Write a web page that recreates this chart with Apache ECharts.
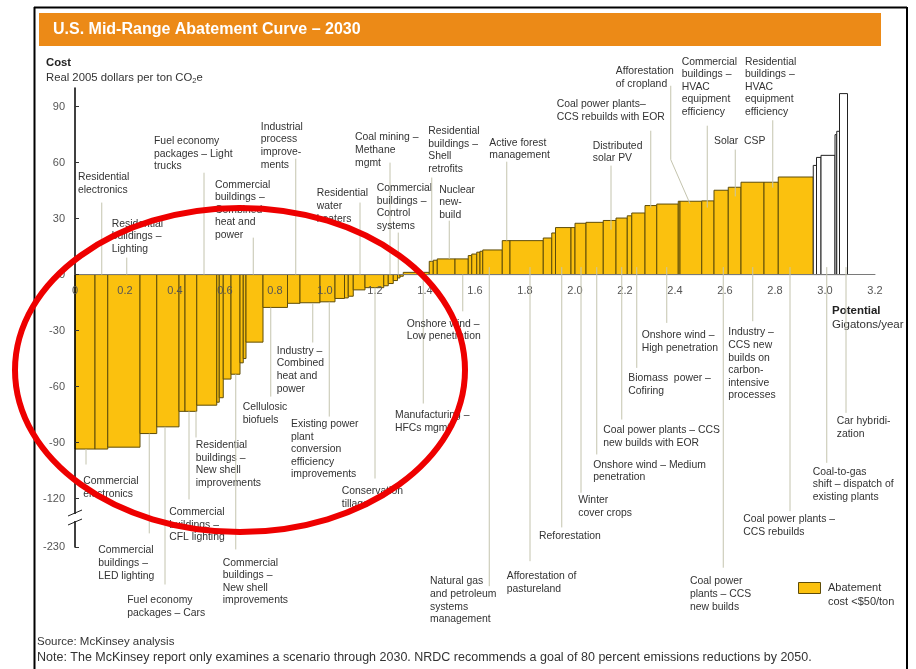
<!DOCTYPE html>
<html>
<head>
<meta charset="utf-8">
<title>U.S. Mid-Range Abatement Curve – 2030</title>
<script src="https://cdn.jsdelivr.net/npm/echarts@6/dist/echarts.min.js"></script>
<style>
  html, body { margin: 0; padding: 0; background: #fff; }
  #chart { width: 916px; height: 669px; }
</style>
</head>
<body>
<div id="chart"></div>
<script>
// abatement measures, left to right: potential (Gt CO2e / year) and cost ($ per t)
var cheapWidths = [0.08, 0.051, 0.129, 0.067, 0.089, 0.024, 0.047, 0.08, 0.01, 0.016,
  0.031, 0.036, 0.013, 0.011, 0.068, 0.098, 0.05, 0.08, 0.06, 0.038,
  0.015, 0.02, 0.047, 0.075, 0.018, 0.02, 0.017, 0.01, 0.013, 0.104,
  0.016, 0.016, 0.071, 0.053, 0.014, 0.02, 0.013, 0.011, 0.078, 0.031,
  0.133, 0.034, 0.015, 0.062, 0.016, 0.044, 0.069, 0.051, 0.045, 0.018,
  0.053, 0.047, 0.086, 0.007, 0.087, 0.049, 0.057, 0.051, 0.092, 0.057, 0.14];
var cheapCosts = [-93.5, -93.5, -92.5, -85.2, -81.6, -73.3, -73.3, -70, -68.4, -66,
  -56, -53.4, -47.3, -45, -36.2, -17.6, -15.4, -15.1, -14.6, -12.8,
  -12.5, -11.6, -8.2, -7, -6, -4.8, -3.2, -1.8, -0.9, 1.2,
  7.1, 7.7, 8.4, 8.4, 10.2, 11, 12, 12.5, 13.2, 18.2,
  18.2, 19.6, 22.3, 25.2, 25.2, 27.5, 28, 29, 30.3, 31.5,
  33, 37, 37.8, 39.3, 39.3, 39.5, 45.2, 46.8, 49.5, 49.5, 52.3];
// measures costing more than $50/ton (drawn unshaded)
var dearWidths = [0.013, 0.018, 0.056, 0.007, 0.011, 0.032];
var dearCosts = [58.5, 62.8, 63.9, 75, 76.8, 97];

var yTickValues = [90, 60, 30, 0, -30, -60, -90, -120, -230];
var yTickLabels = ['90', '60', '30', '0', '-30', '-60', '-90', '-120', '-230'];

// callouts: [label, line x, line top, line bottom, text x, first-line y, extra line points]
var callouts = [
  ['Residential\nelectronics', 0.107, 38.6, 0, 0.012, 52.0],
  ['Residential\nbuildings –\nLighting', 0.207, 9.1, 0, 0.147, 27.3],
  ['Fuel economy\npackages – Light\ntrucks', 0.516, 54.6, 0, 0.316, 71.4],
  ['Commercial\nbuildings –\nCombined\nheat and\npower', 0.713, 19.8, 0, 0.56, 48.2],
  ['Industrial\nprocess\nimprove-\nments', 0.883, 62.1, 0, 0.743, 79.1],
  ['Residential\nwater\nheaters', 1.14, 38.6, 0, 0.967, 43.4],
  ['Coal mining –\nMethane\nmgmt', 1.26, 60, 0, 1.12, 73.4],
  ['Commercial\nbuildings –\nControl\nsystems', 1.293, 22.5, 0, 1.207, 46.2],
  ['Residential\nbuildings –\nShell\nretrofits', 1.427, 52, 7.1, 1.413, 76.8],
  ['Nuclear\nnew-\nbuild', 1.497, 28.9, 8.4, 1.457, 45.5],
  ['Active forest\nmanagement', 1.727, 60.5, 18.2, 1.657, 70.7],
  ['Distributed\nsolar PV', 2.144, 58.4, 24.1, 2.071, 69.1],
  ['Coal power plants–\nCCS rebuilds with EOR', 2.303, 77.1, 35.9, 1.927, 91.1],
  ['Afforestation\nof cropland', 2.383, 101.2, 61.6, 2.163, 108.8, [[2.46, 38]]],
  ['Commercial\nbuildings –\nHVAC\nequipment\nefficiency', 2.529, 79.8, 35.9, 2.427, 114.1],
  ['Solar  CSP', 2.641, 67, 41.9, 2.556, 71.3],
  ['Residential\nbuildings –\nHVAC\nequipment\nefficiency', 2.791, 82.7, 46.6, 2.68, 114.1],
  ['Commercial\nelectronics', 0.044, -93.5, -101.8, 0.033, -110.7],
  ['Commercial\nbuildings –\nLED lighting', 0.297, -85.2, -138.7, 0.093, -147.9],
  ['Fuel economy\npackages – Cars', 0.36, -81.6, -166.1, 0.209, -174.6],
  ['Commercial\nbuildings –\nCFL lighting', 0.456, -73.3, -120.5, 0.377, -127.3],
  ['Residential\nbuildings –\nNew shell\nimprovements', 0.484, -73.3, -87.3, 0.483, -91.4],
  ['Commercial\nbuildings –\nNew shell\nimprovements', 0.643, -53.4, -147.3, 0.591, -154.4],
  ['Cellulosic\nbiofuels', 0.783, -17.6, -65.4, 0.671, -71.1],
  ['Industry –\nCombined\nheat and\npower', 0.951, -15.4, -36.4, 0.807, -40.9],
  ['Existing power\nplant\nconversion\nefficiency\nimprovements', 1.017, -14.6, -76.1, 0.864, -80.2],
  ['Conservation\ntillage', 1.2, -7, -109.3, 1.067, -116.1],
  ['Manufacturing –\nHFCs mgmt', 1.393, 0, -69.1, 1.28, -75.4],
  ['Onshore wind –\nLow penetration', 1.551, 0, -19.7, 1.327, -26.4],
  ['Natural gas\nand petroleum\nsystems\nmanagement', 1.657, 4, -167, 1.42, -164.5],
  ['Afforestation of\npastureland', 1.82, 4, -153.6, 1.727, -161.6],
  ['Reforestation', 1.947, 4, -135.5, 1.856, -140.2],
  ['Winter\ncover crops', 2.024, 4, -116.9, 2.013, -120.9],
  ['Onshore wind – Medium\npenetration', 2.087, 4, -96.4, 2.073, -101.9],
  ['Coal power plants – CCS\nnew builds with EOR', 2.187, 4, -77.7, 2.113, -83.4],
  ['Biomass  power –\nCofiring', 2.247, 4, -50, 2.213, -55.7],
  ['Onshore wind –\nHigh penetration', 2.367, 4, -25.9, 2.267, -32.7],
  ['Coal power\nplants – CCS\nnew builds', 2.593, 4, -157.1, 2.46, -164.5],
  ['Industry –\nCCS new\nbuilds on\ncarbon-\nintensive\nprocesses', 2.711, 4, -25, 2.613, -31.1],
  ['Coal power plants –\nCCS rebuilds', 2.86, 4, -126.8, 2.673, -131.3],
  ['Coal-to-gas\nshift – dispatch of\nexisting plants', 3.007, 4, -100.9, 2.951, -105.7],
  ['Car hybridi-\nzation', 3.084, 4, -74.1, 3.047, -78.8]
];

var FONT = '"Liberation Sans", Arial, Helvetica, sans-serif';
var YELLOW = '#fbc10e';
var LINE_H = 12.6;

// the y axis is broken below -120: -230 sits just under it
var yTop = 100, yBottom = -146;
var gridTop = 88, gridBottom = 122, gridHeight = 669 - gridTop - gridBottom;
function plotCost(v) { return v < -120 ? yBottom : v; }

function buildBars(widths, costs, startAt) {
  var x = startAt, out = [];
  for (var i = 0; i < widths.length; i++) {
    out.push([x, x + widths[i], costs[i]]);
    x += widths[i];
  }
  return out;
}
var cheapBars = buildBars(cheapWidths, cheapCosts, 0);
var dearBars = buildBars(dearWidths, dearCosts, cheapBars[cheapBars.length - 1][1]);

function barRenderer(fill, stroke) {
  return function (params, api) {
    var a = api.coord([api.value(0), api.value(2)]);
    var b = api.coord([api.value(1), 0]);
    return {
      type: 'rect',
      shape: { x: a[0], y: Math.min(a[1], b[1]), width: b[0] - a[0], height: Math.abs(b[1] - a[1]) },
      style: { fill: fill, stroke: stroke, lineWidth: 1 }
    };
  };
}

function renderCallout(params, api) {
  var c = callouts[params.dataIndex];
  var pts = [api.coord([c[1], c[2]]), api.coord([c[1], c[3]])];
  (c[6] || []).forEach(function (p) { pts.push(api.coord(p)); });
  var t = api.coord([c[4], c[5]]);
  return {
    type: 'group',
    children: [
      { type: 'polyline', shape: { points: pts }, style: { stroke: '#c4c4ae', lineWidth: 1, fill: null } },
      { type: 'text', x: t[0], y: t[1] - LINE_H / 2,
        style: { text: c[0], font: '10.4px ' + FONT, fill: '#333', lineHeight: LINE_H,
                 align: 'left', verticalAlign: 'top' } }
    ]
  };
}

// x axis sits on the zero line: shift it up from the grid bottom
var zeroOffset = -gridHeight * (0 - yBottom) / (yTop - yBottom);

var chart = echarts.init(document.getElementById('chart'));
chart.setOption({
  backgroundColor: '#fff',
  animation: false,
  grid: { left: 75, right: 41, top: gridTop, bottom: gridBottom },
  xAxis: {
    type: 'value', min: 0, max: 3.2, interval: 0.2, z: 3,
    position: 'bottom', offset: zeroOffset,
    axisLine: { onZero: false, lineStyle: { color: '#7a7a7a', width: 1 } },
    axisTick: { show: false },
    splitLine: { show: false },
    axisLabel: {
      margin: 11, color: '#555', fontSize: 11, fontFamily: FONT,
      formatter: function (v) { return v === 0 ? '0' : v.toFixed(1); }
    }
  },
  yAxis: {
    type: 'value', min: yBottom, max: yTop, z: 3,
    axisLine: { show: true, onZero: false, lineStyle: { color: '#000', width: 1.5 } },
    axisTick: { show: true, inside: true, length: 4, lineStyle: { color: '#333' },
                customValues: yTickValues.map(plotCost) },
    splitLine: { show: false },
    axisLabel: {
      margin: 10, color: '#555', fontSize: 11, fontFamily: FONT,
      customValues: yTickValues.map(plotCost),
      formatter: function (v) {
        for (var i = 0; i < yTickValues.length; i++) {
          if (plotCost(yTickValues[i]) === v) return yTickLabels[i];
        }
        return '';
      }
    }
  },
  series: [
    { type: 'custom', name: 'Abatement cost <$50/ton', z: 2, silent: true,
      renderItem: barRenderer(YELLOW, '#5e4c08'),
      encode: { x: [0, 1], y: 2 }, data: cheapBars },
    { type: 'custom', name: 'Abatement cost >$50/ton', z: 2, silent: true,
      renderItem: barRenderer('#fff', '#222'),
      encode: { x: [0, 1], y: 2 }, data: dearBars },
    { type: 'custom', name: 'callouts', z: 4, silent: true,
      renderItem: renderCallout,
      encode: { x: 0, y: 1 },
      data: callouts.map(function (c) { return [c[1], c[3]]; }) }
  ],
  graphic: [
    // frame
    { type: 'line', shape: { x1: 34, y1: 7.5, x2: 907, y2: 7.5 }, style: { stroke: '#000', lineWidth: 2 } },
    { type: 'line', shape: { x1: 34.5, y1: 7, x2: 34.5, y2: 669 }, style: { stroke: '#000', lineWidth: 2 } },
    { type: 'line', shape: { x1: 907, y1: 7, x2: 907, y2: 669 }, style: { stroke: '#000', lineWidth: 2 } },
    // title bar
    { type: 'rect', shape: { x: 39, y: 13, width: 842, height: 33 }, style: { fill: '#ec8a17' } },
    { type: 'text', x: 53, y: 29.5, style: { text: 'U.S. Mid-Range Abatement Curve – 2030', fill: '#fff',
      font: 'bold 16px ' + FONT, verticalAlign: 'middle' } },
    // axis titles
    { type: 'text', x: 46, y: 63, style: { text: 'Cost', fill: '#222', font: 'bold 11.3px ' + FONT, verticalAlign: 'middle' } },
    { type: 'text', x: 46, y: 77.5, style: { text: 'Real 2005 dollars per ton CO{sub|2}e', fill: '#333',
      font: '11.3px ' + FONT, verticalAlign: 'middle',
      rich: { sub: { fontSize: 7.5, fontFamily: FONT, fill: '#333', padding: [6, 0, 0, 0] } } } },
    { type: 'text', x: 832, y: 311, style: { text: 'Potential', fill: '#222', font: 'bold 11.5px ' + FONT, verticalAlign: 'middle' } },
    { type: 'text', x: 832, y: 324.5, style: { text: 'Gigatons/year', fill: '#333', font: '11.5px ' + FONT, verticalAlign: 'middle' } },
    // legend
    { type: 'rect', shape: { x: 798.5, y: 582.5, width: 22, height: 11 }, style: { fill: YELLOW, stroke: '#5e4c08', lineWidth: 1 } },
    { type: 'text', x: 828, y: 581.5, style: { text: 'Abatement\ncost <$50/ton', fill: '#333', font: '11px ' + FONT,
      lineHeight: 13.5, verticalAlign: 'top' } },
    // notes
    { type: 'text', x: 37, y: 642, style: { text: 'Source: McKinsey analysis', fill: '#333', font: '11.5px ' + FONT, verticalAlign: 'middle' } },
    { type: 'text', x: 37, y: 658, style: { text: 'Note: The McKinsey report only examines a scenario through 2030. NRDC recommends a goal of 80 percent emissions reductions by 2050.',
      fill: '#333', font: '12.5px ' + FONT, verticalAlign: 'middle' } },
    // axis break
    { type: 'rect', z: 50, shape: { x: 72, y: 514, width: 6, height: 7 }, style: { fill: '#fff' } },
    { type: 'line', z: 51, shape: { x1: 68, y1: 516, x2: 82, y2: 510 }, style: { stroke: '#222', lineWidth: 1 } },
    { type: 'line', z: 51, shape: { x1: 68, y1: 525, x2: 82, y2: 519 }, style: { stroke: '#222', lineWidth: 1 } },
    // highlight ring
    { type: 'ellipse', z: 100, shape: { cx: 240, cy: 370, rx: 225, ry: 162 },
      style: { fill: null, stroke: '#ee0000', lineWidth: 6 } }
  ]
});
</script>
</body>
</html>
